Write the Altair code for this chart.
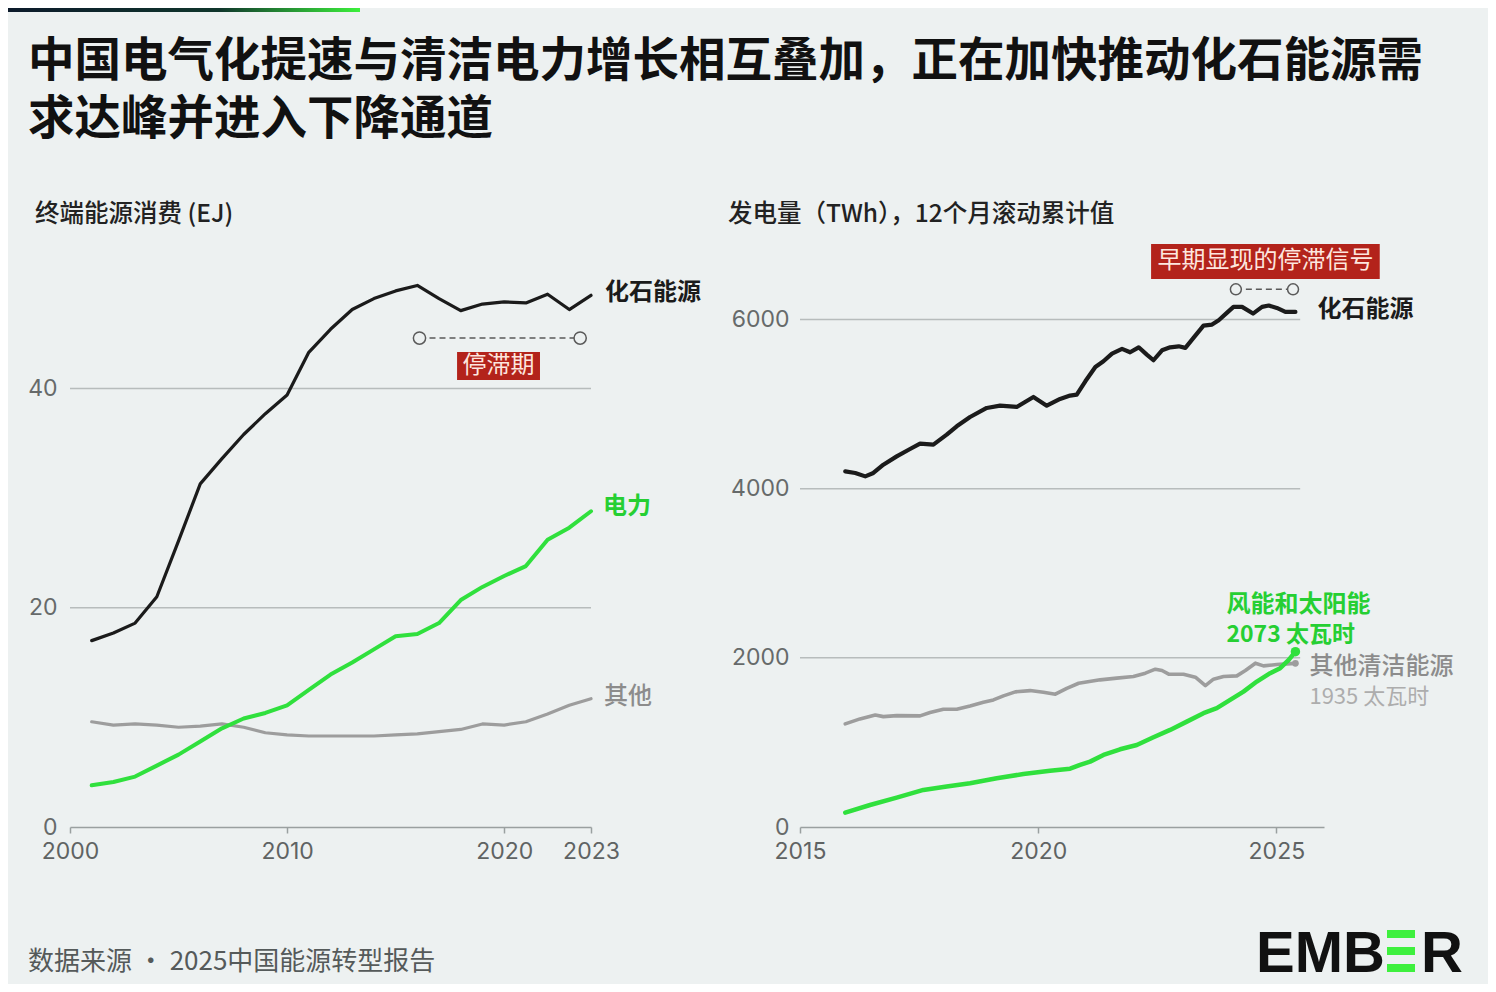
import altair as alt
import pandas as pd

FONT = "Noto Sans CJK SC"
NUM_FONT = "Inter"
BG = "#edf1f1"
INK = "#1b1b1b"
GREEN = "#30e03d"
GREEN_TEXT = "#26cf33"
GREY = "#9d9d9d"
GREY_TEXT = "#8c8c8c"
GREY_LIGHT = "#adadad"
GRID = "#b7bcbc"
AXIS = "#9aa0a0"
RED = "#b3231b"

TITLE_LINES = [
    "中国电气化提速与清洁电力增长相互叠加，正在加快推动化石能源需",
    "求达峰并进入下降通道",
]
LEFT_TITLE = "终端能源消费 (EJ)"
RIGHT_TITLE = "发电量（TWh），12个月滚动累计值"
SOURCE = "数据来源 · 2025中国能源转型报告"

# final energy consumption, EJ (last point sits at the axis end, labelled 2023)
left_years = list(range(2001, 2025))
left_fossil = [17.0, 17.7, 18.6, 21.0, 26.1, 31.3, 33.6, 35.8, 37.7, 39.4, 43.3, 45.4,
               47.2, 48.2, 48.9, 49.4, 48.2, 47.1, 47.7, 47.9, 47.8, 48.6, 47.2, 48.5]
left_power = [3.8, 4.1, 4.6, 5.6, 6.6, 7.8, 9.0, 9.9, 10.4, 11.1, 12.5, 13.9,
              15.0, 16.2, 17.4, 17.6, 18.6, 20.7, 21.9, 22.9, 23.8, 26.2, 27.3, 28.8]
left_other = [9.6, 9.3, 9.4, 9.3, 9.1, 9.2, 9.4, 9.1, 8.6, 8.4, 8.3, 8.3,
              8.3, 8.3, 8.4, 8.5, 8.7, 8.9, 9.4, 9.3, 9.6, 10.3, 11.1, 11.7]
left_ticks = [0, 20, 40]
left_stall = [2016.1, 2023.5]

# generation, TWh, 12-month rolling sum
fossil_t = [2015.95, 2016.16, 2016.37, 2016.54, 2016.75, 2017.03, 2017.31, 2017.52, 2017.80,
            2018.08, 2018.29, 2018.57, 2018.92, 2019.20, 2019.55, 2019.90, 2020.18, 2020.46,
            2020.67, 2020.81, 2020.99, 2021.20, 2021.37, 2021.55, 2021.76, 2021.93, 2022.11,
            2022.28, 2022.42, 2022.60, 2022.77, 2022.95, 2023.09, 2023.26, 2023.47, 2023.65,
            2023.79, 2023.96, 2024.10, 2024.28, 2024.51, 2024.70, 2024.84, 2025.01, 2025.19,
            2025.40]
fossil_v = [4205, 4186, 4146, 4186, 4284, 4382, 4470, 4533, 4521,
            4639, 4738, 4848, 4955, 4982, 4967, 5085, 4982, 5061,
            5101, 5112, 5270, 5440, 5507, 5598, 5653, 5613, 5672,
            5586, 5519, 5637, 5672, 5684, 5665, 5783, 5929, 5941,
            5992, 6079, 6150, 6150, 6071, 6150, 6166, 6138, 6091,
            6091]
clean_t = [2015.95, 2016.26, 2016.58, 2016.75, 2017.03, 2017.52, 2017.73, 2018.01, 2018.29,
           2018.57, 2018.85, 2019.06, 2019.27, 2019.52, 2019.83, 2020.11, 2020.36, 2020.60,
           2020.85, 2021.30, 2021.65, 2022.00, 2022.25, 2022.46, 2022.60, 2022.74, 2023.05,
           2023.30, 2023.51, 2023.68, 2023.89, 2024.17, 2024.35, 2024.56, 2024.73, 2025.01,
           2025.22, 2025.40]
clean_v = [1219, 1278, 1325, 1305, 1317, 1314, 1353, 1393, 1393,
           1432, 1475, 1503, 1550, 1598, 1613, 1594, 1570, 1640,
           1700, 1740, 1760, 1779, 1819, 1866, 1850, 1807, 1807,
           1772, 1672, 1748, 1779, 1787, 1850, 1937, 1905, 1921,
           1929, 1935]
ws_t = [2015.95, 2016.47, 2017.03, 2017.59, 2018.08, 2018.57, 2019.13, 2019.69, 2020.25,
        2020.67, 2020.88, 2021.09, 2021.37, 2021.72, 2022.07, 2022.42, 2022.77, 2023.12,
        2023.47, 2023.75, 2024.03, 2024.31, 2024.59, 2024.87, 2025.08, 2025.26, 2025.40]
ws_v = [169, 260, 347, 438, 480, 517, 576, 627, 666,
        690, 734, 773, 852, 919, 970, 1061, 1148, 1246,
        1346, 1405, 1503, 1601, 1720, 1819, 1878, 1976, 2073]
right_ticks = [0, 2000, 4000, 6000]
right_stall = [2024.15, 2025.35]

LEFT_W, RIGHT_W, PLOT_H = 521, 524, 592
ONE = pd.DataFrame({"k": [0]})

left_df = pd.DataFrame({"year": left_years, "化石能源": left_fossil,
                        "电力": left_power, "其他": left_other})
left_df = left_df.melt("year", var_name="series", value_name="value")

right_df = pd.concat([
    pd.DataFrame({"year": fossil_t, "value": fossil_v, "series": "化石能源"}),
    pd.DataFrame({"year": clean_t, "value": clean_v, "series": "其他清洁能源"}),
    pd.DataFrame({"year": ws_t, "value": ws_v, "series": "风能和太阳能"}),
])

x_axis_style = dict(
    grid=False, domainColor=AXIS, domainWidth=1.5, tickColor=AXIS, tickWidth=1.5,
    tickSize=6, labelPadding=7, labelFont=NUM_FONT, labelFontSize=23, labelColor="#5f6363",
    labelFlush=False, labelOverlap=False, labelBound=False, format="d",
)
y_axis_style = dict(
    grid=False, domain=False, ticks=False, tickSize=0, labelFont=NUM_FONT, labelFontSize=23,
    labelColor="#666a6a", format="d",
)


def text_at(text, x, y, **style):
    return alt.Chart(ONE).mark_text(text=text, font=FONT, **style).encode(
        x=alt.value(x), y=alt.value(y))


def line_layers(df, x_enc, y_enc, styles):
    return [
        alt.Chart(df[df.series == name]).mark_line(
            color=color, strokeWidth=width, strokeJoin="round", strokeCap="round"
        ).encode(x=x_enc, y=y_enc)
        for name, color, width in styles
    ]


def end_label(df, name, x_enc, y_enc, text="series:N", calc=None, **style):
    last = df[df.series == name].tail(1)
    chart = alt.Chart(last)
    if calc:
        chart = chart.transform_calculate(lab=calc)
    return chart.mark_text(align="left", baseline="middle", font=FONT, **style).encode(
        x=x_enc, y=y_enc, text=text)


def stall_marker(years, level, x_enc, size):
    df = pd.DataFrame({"year": years})
    dash = alt.Chart(df).mark_line(strokeDash=[6, 4], color="#5a5a5a", strokeWidth=1.5).encode(
        x=x_enc, y=alt.datum(level))
    dots = alt.Chart(df).mark_point(shape="circle", fill=BG, fillOpacity=1, stroke="#5a5a5a",
                                    strokeWidth=1.5, size=size, opacity=1).encode(
        x=x_enc, y=alt.datum(level))
    return [dash, dots]


def red_box(text, x1, x2, y1, y2):
    box = alt.Chart(ONE).mark_rect(fill=RED).encode(
        x=alt.datum(x1), x2=alt.datum(x2), y=alt.datum(y1), y2=alt.datum(y2))
    label = alt.Chart(ONE).mark_text(text=text, font=FONT, fontSize=24, color="#fde6df",
                                     baseline="middle").encode(
        x=alt.datum((x1 + x2) / 2), y=alt.datum((y1 + y2) / 2))
    return [box, label]


# ---- left panel ----
x_left = alt.X("year:Q", title=None,
               scale=alt.Scale(domain=[2000, 2024], nice=False, zero=False),
               axis=alt.Axis(values=[2000, 2010, 2020, 2024],
                             labelExpr="datum.value == 2024 ? '2023' : datum.label",
                             **x_axis_style))
y_left = alt.Y("value:Q", title=None, scale=alt.Scale(domain=[0, 54], nice=False),
               axis=alt.Axis(values=left_ticks, labelPadding=13, **y_axis_style))

left_grid = alt.Chart(pd.DataFrame({"value": left_ticks[1:]})).mark_rule(
    color=GRID, strokeWidth=1.5).encode(y=y_left, x=alt.datum(2000), x2=alt.datum(2024))

gradient = alt.Gradient(gradient="linear", x1=0, x2=1, y1=0, y2=0, stops=[
    alt.GradientStop(color="#0c1a2b", offset=0),
    alt.GradientStop(color="#10362c", offset=0.6),
    alt.GradientStop(color="#3cf03c", offset=1),
])
top_bar = alt.Chart(ONE).mark_rect(fill=gradient).encode(
    x=alt.value(-62), x2=alt.value(290), y=alt.value(-227), y2=alt.value(-223))

left_layers = [left_grid, top_bar]
left_layers += line_layers(left_df, x_left, y_left, [
    ("其他", GREY, 3.2), ("化石能源", INK, 3.2), ("电力", GREEN, 4)])
left_layers += [
    end_label(left_df, "化石能源", x_left, y_left, dx=14, dy=-2, fontSize=24,
              fontWeight="bold", color=INK),
    end_label(left_df, "电力", x_left, y_left, dx=12, dy=-4, fontSize=24,
              fontWeight="bold", color=GREEN_TEXT),
    end_label(left_df, "其他", x_left, y_left, dx=13, dy=-2, fontSize=24,
              fontWeight=500, color=GREY_TEXT),
]
left_layers += stall_marker(left_stall, 44.6, x_left, 150)
left_layers += red_box("停滞期", 2017.83, 2021.65, 43.33, 40.77)
left_layers += [
    text_at(TITLE_LINES[0], -42, -173, fontSize=46.5, fontWeight="bold", color="#111111",
            align="left", baseline="middle"),
    text_at(TITLE_LINES[1], -42, -115, fontSize=46.5, fontWeight="bold", color="#111111",
            align="left", baseline="middle"),
    text_at(LEFT_TITLE, -35, -20, fontSize=24.5, fontWeight=500, color="#222222",
            align="left", baseline="middle"),
    text_at(SOURCE, -42, 727, fontSize=26, color="#555a5a", align="left", baseline="middle"),
]

left = alt.layer(*left_layers).properties(width=LEFT_W, height=PLOT_H)

# ---- right panel ----
x_right = alt.X("year:Q", title=None,
                scale=alt.Scale(domain=[2015, 2026], nice=False, zero=False),
                axis=alt.Axis(values=[2015, 2020, 2025], **x_axis_style))
y_right = alt.Y("value:Q", title=None, scale=alt.Scale(domain=[0, 7000], nice=False),
                axis=alt.Axis(values=right_ticks, labelPadding=11, **y_axis_style))

right_grid = alt.Chart(pd.DataFrame({"value": right_ticks[1:]})).mark_rule(
    color=GRID, strokeWidth=1.5).encode(y=y_right, x=alt.datum(2015), x2=alt.datum(2025.5))

right_layers = [right_grid]
right_layers += line_layers(right_df, x_right, y_right, [
    ("其他清洁能源", GREY, 3.6), ("化石能源", INK, 4.2), ("风能和太阳能", GREEN, 4.5)])

ends = right_df.groupby("series").tail(1)
right_layers += [
    alt.Chart(ends[ends.series == "其他清洁能源"]).mark_circle(color=GREY, size=45, opacity=1)
    .encode(x=x_right, y=y_right),
    alt.Chart(ends[ends.series == "风能和太阳能"]).mark_circle(color=GREEN, size=90, opacity=1)
    .encode(x=x_right, y=y_right),
    end_label(right_df, "化石能源", x_right, y_right, dx=22, dy=-2, fontSize=24,
              fontWeight="bold", color=INK),
    end_label(right_df, "风能和太阳能", x_right, y_right, dx=-69, dy=-47, fontSize=24,
              fontWeight="bold", color=GREEN_TEXT),
    end_label(right_df, "风能和太阳能", x_right, y_right, text="lab:N",
              calc="format(datum.value, 'd') + ' 太瓦时'", dx=-69, dy=-17, fontSize=23,
              fontWeight="bold", color=GREEN_TEXT),
    end_label(right_df, "其他清洁能源", x_right, y_right, dx=14, dy=4, fontSize=24,
              fontWeight=500, color=GREY_TEXT),
    end_label(right_df, "其他清洁能源", x_right, y_right, text="lab:N",
              calc="format(datum.value, 'd') + ' 太瓦时'", dx=14, dy=34, fontSize=22,
              color=GREY_LIGHT),
]
right_layers += stall_marker(right_stall, 6358, x_right, 120)
right_layers += red_box("早期显现的停滞信号", 2022.37, 2027.17, 6894, 6480)
right_layers.append(text_at(RIGHT_TITLE, -72, -20, fontSize=24.5, fontWeight=500,
                            color="#222222", align="left", baseline="middle"))

# EMBER wordmark, bottom right
right_layers += [
    alt.Chart(ONE).mark_text(text="EMB", font="Liberation Sans", fontSize=58, fontWeight="bold",
                             color="#111111", align="right", baseline="alphabetic")
    .encode(x=alt.value(585), y=alt.value(737)),
    alt.Chart(ONE).mark_text(text="R", font="Liberation Sans", fontSize=58, fontWeight="bold",
                             color="#111111", align="left", baseline="alphabetic")
    .encode(x=alt.value(621), y=alt.value(737)),
]
for top in (695, 712, 729):
    right_layers.append(alt.Chart(ONE).mark_rect(fill="#3ef03e").encode(
        x=alt.value(587), x2=alt.value(615), y=alt.value(top), y2=alt.value(top + 8)))
# keeps the background running to the page edge
right_layers.append(alt.Chart(ONE).mark_rect(fill=BG).encode(
    x=alt.value(680), x2=alt.value(688), y=alt.value(741), y2=alt.value(749)))

right = alt.layer(*right_layers).properties(width=RIGHT_W, height=PLOT_H)

chart = (
    alt.hconcat(left, right, spacing=209, bounds="flush")
    .properties(padding=0, background=BG)
    .configure_view(stroke=None)
)

chart.save("out.html", embed_options={"renderer": "svg", "actions": False})
